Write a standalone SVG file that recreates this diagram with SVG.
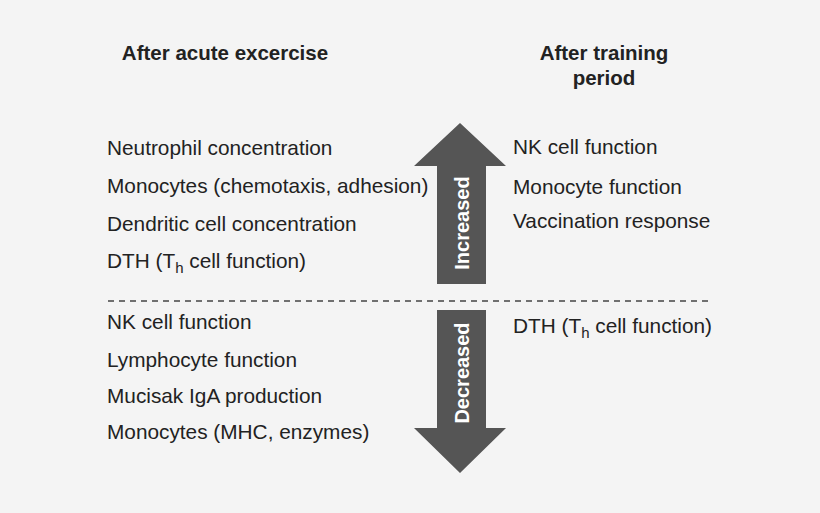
<svg xmlns="http://www.w3.org/2000/svg" width="820" height="513" viewBox="0 0 820 513">
<style>
text{font-family:"Liberation Sans",Arial,sans-serif;fill:#222}
.t{font-size:20.8px}
.h{font-size:20.5px;font-weight:bold;text-anchor:middle}
.a{fill:#555}
.w{font-size:20px;font-weight:bold;fill:#fff;text-anchor:middle}
</style>
<rect width="820" height="513" fill="#f4f4f4"/>
<g id="header-acute"><text class="h" x="225" y="60">After acute excercise</text></g>
<g id="header-training"><text class="h" x="604" y="60">After training</text><text class="h" x="604" y="85">period</text></g>
<g id="arrow-increased">
<polygon class="a" points="460,123 506,166 486,166 486,284 437,284 437,166 414,166"/>
<text class="w" transform="translate(469,223) rotate(-90)">Increased</text>
</g>
<g id="arrow-decreased">
<polygon class="a" points="437,310 486,310 486,428 506,428 460,473 414,428 437,428"/>
<text class="w" transform="translate(469,373) rotate(-90)">Decreased</text>
</g>
<g id="connectors"><line x1="108" y1="301" x2="713" y2="301" stroke="#444" stroke-width="1.5" stroke-dasharray="6,5"/></g>
<g id="acute-increased">
<text class="t" x="107" y="155">Neutrophil concentration</text>
<text class="t" x="107" y="193">Monocytes (chemotaxis, adhesion)</text>
<text class="t" x="107" y="231">Dendritic cell concentration</text>
<text class="t" x="107" y="268">DTH (T<tspan font-size="15" dy="5">h</tspan><tspan dy="-5"> cell function)</tspan></text>
</g>
<g id="training-increased">
<text class="t" x="513" y="154">NK cell function</text>
<text class="t" x="513" y="194">Monocyte function</text>
<text class="t" x="513" y="228">Vaccination response</text>
</g>
<g id="acute-decreased">
<text class="t" x="107" y="329">NK cell function</text>
<text class="t" x="107" y="367">Lymphocyte function</text>
<text class="t" x="107" y="403">Mucisak IgA production</text>
<text class="t" x="107" y="439">Monocytes (MHC, enzymes)</text>
</g>
<g id="training-decreased">
<text class="t" x="513" y="333">DTH (T<tspan font-size="15" dy="5">h</tspan><tspan dy="-5"> cell function)</tspan></text>
</g>
</svg>
